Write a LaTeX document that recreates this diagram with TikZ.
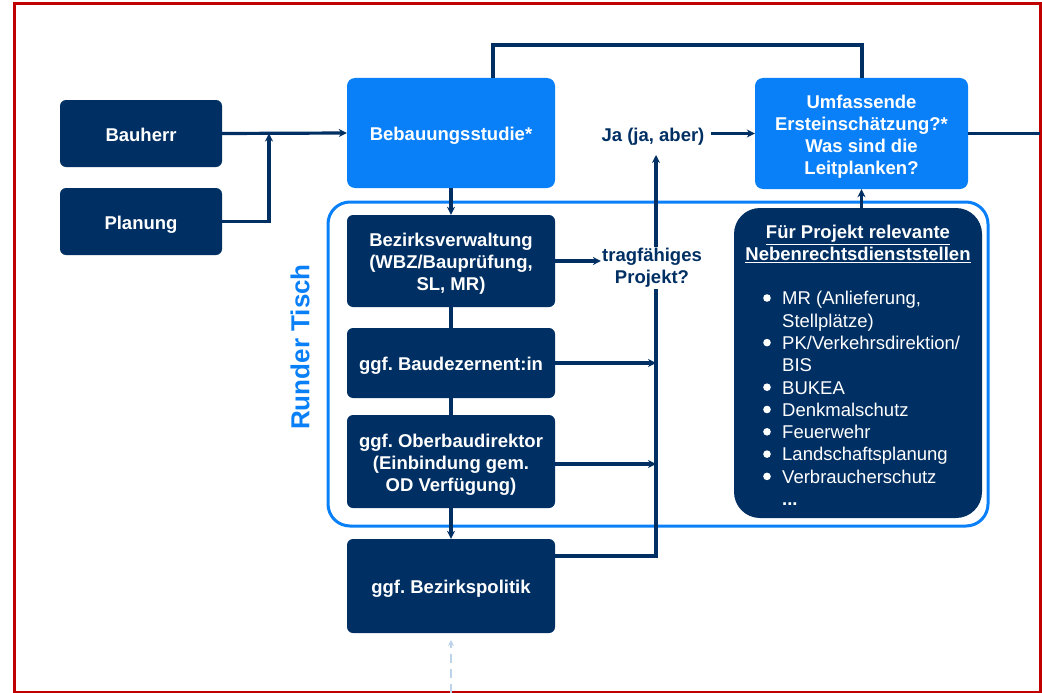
\documentclass[tikz,border=0pt]{standalone}
\usepackage{fontspec}
\setmainfont{Liberation Sans}
\usetikzlibrary{arrows.meta}
\definecolor{navy}{HTML}{003063}
\definecolor{lblue}{HTML}{0A80F8}
\definecolor{dashblue}{HTML}{BDD3EA}
\definecolor{framered}{HTML}{C00000}
\frenchspacing
\begin{document}
\begin{tikzpicture}[x=1pt,y=-1pt,
  box/.style={rounded corners=6pt, inner sep=0pt},
  navybox/.style={box, fill=navy},
  bluebox/.style={box, fill=lblue, rounded corners=8pt},
  btxt/.style={text=white, font=\bfseries\fontsize{18.5}{22}\selectfont, align=center, inner sep=0pt, yshift=-3pt},
  conn/.style={draw=navy, line width=3.2pt},
  arr/.style={conn, -{Stealth[length=8pt,width=8pt]}},
  lbl/.style={text=navy, font=\bfseries\fontsize{18.5}{22}\selectfont, align=center, inner sep=2pt}]
\useasboundingbox (0,0) rectangle (1042,693);
% frame
\draw[framered, line width=3pt] (14,4) rectangle (1040,692);
% Runder Tisch container
\draw[lblue, line width=3pt, rounded corners=22pt] (328,202) rectangle (988,526);
\node[text=lblue, font=\bfseries\fontsize{26}{30}\selectfont, rotate=90, inner sep=0pt] (rt) at (300,347) {Runder Tisch};
% boxes
\node[navybox, minimum width=162, minimum height=67, label={[btxt,yshift=2pt]center:Bauherr}] (bauherr) at (141,133.5) {};
\node[navybox, minimum width=162, minimum height=67, label={[btxt]center:Planung}] (planung) at (141,221.5) {};
\node[bluebox, minimum width=208, minimum height=110, label={[btxt]center:Bebauungsstudie*}] (bebau) at (451,133) {};
\node[bluebox, minimum width=213, minimum height=111, label={[btxt]center:{Umfassende\\Ersteinschätzung?*\\Was sind die\\Leitplanken?}}] (umfass) at (861.5,133.5) {};
\node[navybox, minimum width=208, minimum height=92, label={[btxt]center:{Bezirksverwaltung\\(WBZ/Bauprüfung,\\SL, MR)}}] (bezirk) at (451,261) {};
\node[navybox, minimum width=208, minimum height=70, label={[btxt]center:{ggf. Baudezernent:in}}] (baudez) at (451,363) {};
\node[navybox, minimum width=208, minimum height=93, label={[btxt]center:{ggf. Oberbaudirektor\\(Einbindung gem.\\OD Verfügung)}}] (oberbau) at (451,461.5) {};
\node[navybox, minimum width=208, minimum height=94, label={[btxt]center:{ggf. Bezirkspolitik}}] (bezpol) at (451,586) {};
\node[navybox, rounded corners=26pt, minimum width=248, minimum height=310] (fuer) at (858,363) {};
\node[text=white, font=\bfseries\fontsize{18.5}{22}\selectfont, align=center, inner sep=0pt] (fuertitle) at (858,244) {\underline{Für Projekt relevante}\\\underline{Nebenrechtsdienststellen}};
\node[text=white, font=\fontsize{18.5}{22.3}\selectfont, anchor=north west, inner sep=0pt] (fuerlist) at (782,289) {%
\renewcommand{\arraystretch}{1}%
\begin{tabular}{@{}l@{}}
MR (Anlieferung,\\
Stellplätze)\\
PK/Verkehrsdirektion/\\
BIS\\
BUKEA\\
Denkmalschutz\\
Feuerwehr\\
Landschaftsplanung\\
Verbraucherschutz\\
\textbf{...}
\end{tabular}};
% bullets
\foreach \by in {298,342.6,387.2,409.5,431.8,454.1,476.4}
  \fill[white] (767,\by) circle (3.8pt);
% labels
\node[lbl] (ja) at (653,137) {Ja (ja, aber)};
% coordinates
\coordinate (j1) at (269,133.5);
\coordinate (tl) at (493,45);
\coordinate (tr) at (862,45);
\coordinate (re) at (1040,133.5);
\coordinate (vb) at (656,556);
\coordinate (vt) at (656,155);
\coordinate (v1) at (656,363);
\coordinate (v2) at (656,464);
\coordinate (db) at (451,693);
\coordinate (dt) at (451,640);
% connectors
\draw[arr] (bauherr.east) -- (bebau.west);
\draw[arr] (planung.east) -| (j1);
\draw[conn] (tl |- bebau.north) -- (tl) -- (tr) -- (tr |- umfass.north);
\draw[arr] (ja.east |- umfass.west) ++(4,0) -- (umfass.west);
\draw[conn] (umfass.east) -- (re);
\draw[arr] (bebau.south) -- (bezirk.north);
\draw[conn] (bezirk.south) -- (baudez.north);
\draw[conn] (baudez.south) -- (oberbau.north);
\draw[arr] (oberbau.south) -- (bezpol.north);
\draw[arr] (bezpol.east |- vb) -- (vb) -- (vt);
\draw[arr] (baudez.east) -- (v1);
\draw[arr] (oberbau.east |- v2) -- (v2);
\draw[arr] (fuer.north -| umfass.south) -- (umfass.south);
\draw[dashblue, line width=2pt, dash pattern=on 9pt off 6pt, -{Stealth[length=6pt,width=6pt]}] (db) -- (dt);
\node[lbl, fill=white, inner sep=1pt] (trag) at (652,268) {tragfähiges\\Projekt?};
\draw[arr] (bezirk.east) -- (bezirk.east -| trag.west);
\end{tikzpicture}
\end{document}
